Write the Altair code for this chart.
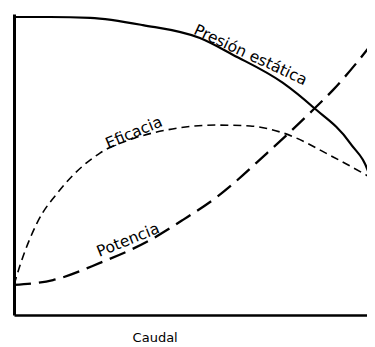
import altair as alt
import pandas as pd

# Presión estática
pres_x = [0, 10.0, 21.1, 35.7, 51.5, 60.7, 74.5, 82.8, 93.1, 98.6, 99.7]
pres_y = [99.0, 99.0, 98.7, 96.3, 92.0, 86.4, 77.1, 69.1, 57.1, 45.8, 40.9]
# Eficacia
efi_x = [0, 1.7, 6.4, 12.7, 23.8, 33.5, 42.4, 56.2, 65.4, 74.5, 88.4, 98.6]
efi_y = [10.0, 16.6, 30.6, 41.5, 53.8, 58.8, 61.5, 63.1, 62.8, 60.5, 52.5, 45.8]
# Potencia
pot_x = [0, 10.8, 23.8, 37.7, 46.8, 56.2, 70.1, 82.8, 88.4, 100]
pot_y = [10.0, 11.6, 17.3, 24.9, 31.6, 39.2, 53.8, 68.1, 74.8, 91.4]

label_text = ["Presión estática", "Eficacia", "Potencia"]
label_x = [65.5, 33.2, 31.6]
label_y = [86.4, 60.6, 24.9]
label_angle = [25, 337, 338]

x_title = "Caudal"

W, H = 353, 301
xs = alt.Scale(domain=[0, 97.78], nice=False, zero=False)
ys = alt.Scale(domain=[0, 100], nice=False, zero=False)
ax_x = alt.Axis(domain=True, domainColor="black", domainWidth=2.5, ticks=False,
                labels=False, grid=False, title=None)
ax_y = alt.Axis(domain=True, domainColor="black", domainWidth=3, ticks=False,
                labels=False, grid=False, title=None)

pres = pd.DataFrame({"x": pres_x, "y": pres_y})
efi = pd.DataFrame({"x": efi_x, "y": efi_y})
pot = pd.DataFrame({"x": pot_x, "y": pot_y})

l_pres = alt.Chart(pres).mark_line(color="black", strokeWidth=2.2, interpolate="monotone",
                                   clip=True).encode(
    x=alt.X("x:Q", scale=xs, axis=ax_x), y=alt.Y("y:Q", scale=ys, axis=ax_y))
l_efi = alt.Chart(efi).mark_line(color="black", strokeWidth=1.6, strokeDash=[8, 5],
                                 interpolate="monotone", clip=True).encode(
    x=alt.X("x:Q", scale=xs), y=alt.Y("y:Q", scale=ys))
l_pot = alt.Chart(pot).mark_line(color="black", strokeWidth=2.3, strokeDash=[17, 8],
                                 interpolate="monotone", clip=True).encode(
    x=alt.X("x:Q", scale=xs), y=alt.Y("y:Q", scale=ys))

layers = [l_pres, l_efi, l_pot]
for t, lx, ly, a in zip(label_text, label_x, label_y, label_angle):
    d = pd.DataFrame({"x": [lx], "y": [ly], "t": [t]})
    layers.append(alt.Chart(d).mark_text(font="DejaVu Sans", fontSize=15.5, angle=a,
                                         color="black").encode(
        x=alt.X("x:Q", scale=xs), y=alt.Y("y:Q", scale=ys), text="t:N"))

cap = pd.DataFrame({"x": [39.1], "y": [-7.6], "t": [x_title]})
layers.append(alt.Chart(cap).mark_text(font="DejaVu Sans", fontSize=13, color="black").encode(
    x=alt.X("x:Q", scale=xs), y=alt.Y("y:Q", scale=ys), text="t:N"))

chart = alt.layer(*layers).properties(
    width=W, height=H,
    autosize=alt.AutoSizeParams(type="none"),
    padding={"left": 6, "top": 6, "right": 0, "bottom": 30},
    background="white",
).configure_view(stroke=None)

chart.save("out.html", embed_options={"renderer": "svg", "actions": False})
